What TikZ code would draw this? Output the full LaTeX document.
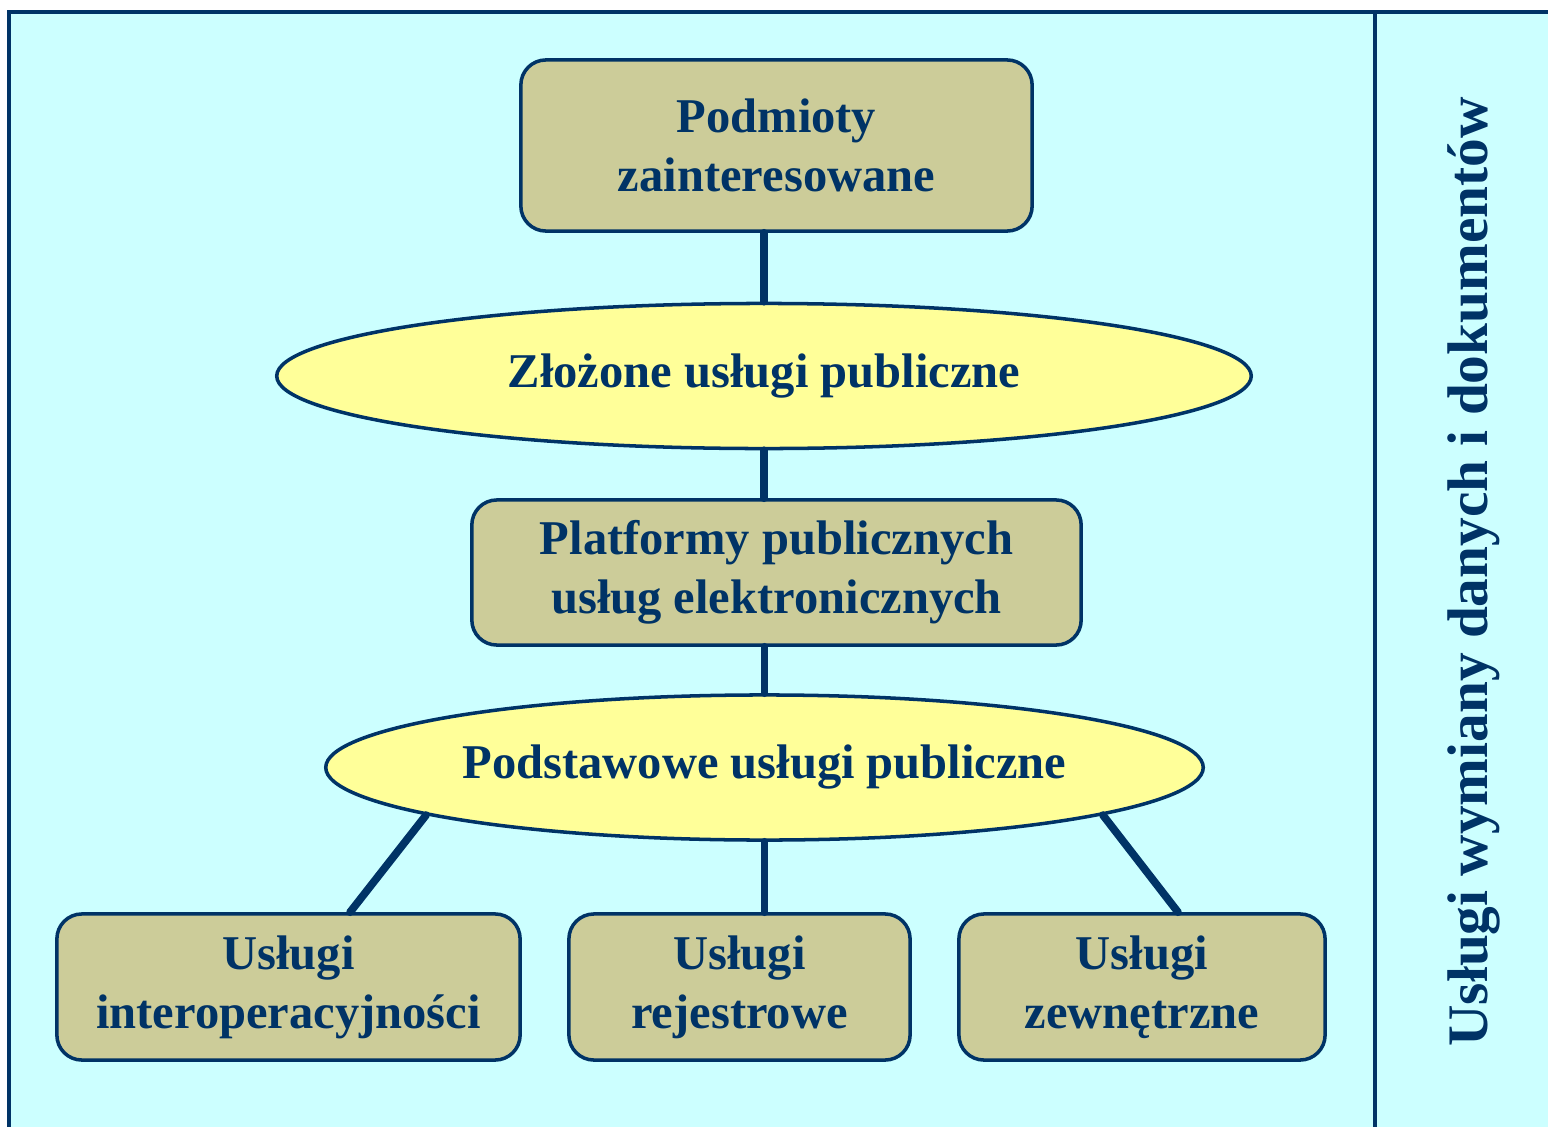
\documentclass[tikz,border=0pt]{standalone}
\usepackage{fontspec}
\setmainfont{Liberation Serif}
\usetikzlibrary{shapes.geometric}
\definecolor{bgcyan}{HTML}{CCFFFF}
\definecolor{boxfill}{HTML}{CCCC99}
\definecolor{ellfill}{HTML}{FFFF99}
\definecolor{navy}{HTML}{003366}
\tikzset{
  box/.style={rectangle, rounded corners=0.25cm, draw=navy, fill=boxfill, line width=1pt,
    inner sep=0pt, align=center, text=navy, font=\bfseries\fontsize{13.8}{16.8}\selectfont},
  oval/.style={ellipse, draw=navy, fill=ellfill, line width=1pt, inner sep=0pt,
    text=navy, font=\bfseries\fontsize{13.8}{16.8}\selectfont},
  link/.style={draw=navy, line width=2.2pt, line cap=round},
  frame/.style={draw=navy, line width=1pt}
}
\begin{document}
\begin{tikzpicture}[x=0.01cm, y=-0.01cm]
\useasboundingbox (0,0) rectangle (1548,1127);
\fill[bgcyan] (9,12) rectangle (1548,1127);
\draw[frame] (9,1127) -- (9,12) -- (1548,12);
\draw[frame] (1375,12) -- (1375,1127);
\node[box, minimum width=5.11cm, minimum height=1.71cm] (b1) at (776.5,145.5) {Podmioty\\zainteresowane};
\node[oval, minimum width=9.74cm, minimum height=1.45cm] (e1) at (764,376) {Złożone usługi publiczne};
\node[box, minimum width=6.09cm, minimum height=1.45cm] (b2) at (776.5,572.5) {Platformy publicznych\\usług elektronicznych};
\node[oval, minimum width=8.77cm, minimum height=1.45cm] (e2) at (764.5,767.5) {Podstawowe usługi publiczne};
\node[box, minimum width=4.63cm, minimum height=1.46cm] (b3) at (288.5,987) {Usługi\\interoperacyjności};
\node[box, minimum width=3.41cm, minimum height=1.46cm] (b4) at (739.5,987) {Usługi\\rejestrowe};
\node[box, minimum width=3.66cm, minimum height=1.46cm] (b5) at (1142,987) {Usługi\\zewnętrzne};
\node[rotate=90, text=navy, font=\bfseries\fontsize{16.3}{19}\selectfont] (side) at (1474,572) {Usługi wymiany danych i dokumentów};
\coordinate (b3top) at ([xshift=0.615cm]b3.north);
\coordinate (b5top) at ([xshift=0.36cm]b5.north);
\draw[link] (b1.south -| e1.north) -- (e1.north);
\draw[link] (e1.south) -- (e1.south |- b2.north);
\draw[link] (b2.south -| e2.north) -- (e2.north);
\draw[link] (e2.south) -- (e2.south |- b4.north);
\draw[link] (e2.188) -- (b3top);
\draw[link] (e2.-8) -- (b5top);
\end{tikzpicture}
\end{document}
